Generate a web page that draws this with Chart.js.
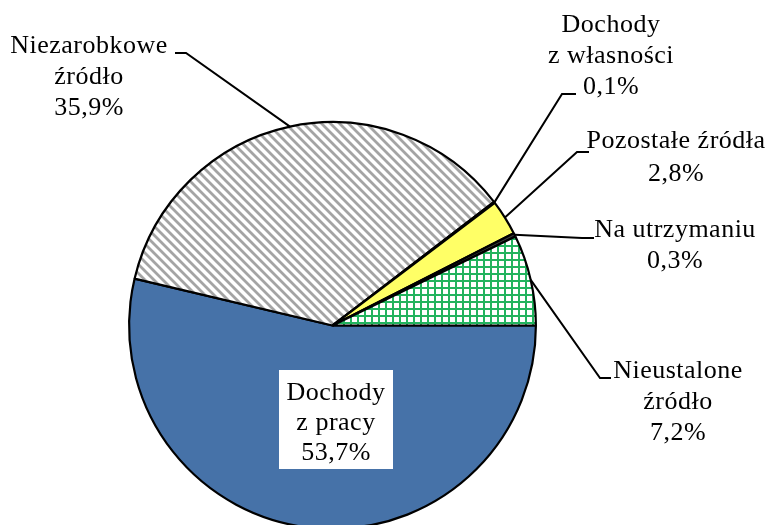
<!DOCTYPE html>
<html><head><meta charset="utf-8">
<script src="https://cdn.jsdelivr.net/npm/chart.js@4"></script>
<style>
html,body{margin:0;padding:0;background:#fff;overflow:hidden;}
#wrap{position:relative;width:765px;height:530px;}
</style></head>
<body>
<div id="wrap"><canvas id="c"></canvas></div>
<script>
const categories = [
  ['Dochody', 'z pracy'],
  ['Niezarobkowe', 'źródło'],
  ['Dochody', 'z własności'],
  ['Pozostałe źródła'],
  ['Na utrzymaniu'],
  ['Nieustalone', 'źródło']
];
const values = [53.7, 35.9, 0.1, 2.8, 0.3, 7.2];

// label layout: text centre x, first baseline y, line step, leader elbow & end
const labelLayout = [
  {x: 336, y: 400, step: 30, box: [279, 370, 114, 99]},
  {x: 89, y: 53, step: 31, elbow: [186, 53], end: [175, 53]},
  {x: 611, y: 32, step: 31, elbow: [562, 94], end: [576, 94]},
  {x: 676, y: 148, step: 33, elbow: [577, 152], end: [589, 152]},
  {x: 675, y: 237, step: 31, elbow: [582, 238], end: [594, 238]},
  {x: 678, y: 378, step: 31, elbow: [600, 378], end: [611, 378]}
];

function fmt(v){ return v.toFixed(1).replace('.', ',') + '%'; }

function hatchPattern(){
  const s = 9, c = document.createElement('canvas');
  c.width = s; c.height = s;
  const g = c.getContext('2d');
  g.fillStyle = '#fff'; g.fillRect(0,0,s,s);
  g.strokeStyle = '#a4a4a4'; g.lineWidth = 2.8;
  g.beginPath();
  for (let k = -2; k <= 2; k++) {
    g.moveTo(k*s - 3, -3); g.lineTo(k*s + s + 3, s + 3);
  }
  g.stroke();
  return g.createPattern(c, 'repeat');
}
function gridPattern(){
  const s = 7, c = document.createElement('canvas');
  c.width = s; c.height = s;
  const g = c.getContext('2d');
  g.fillStyle = '#fff'; g.fillRect(0,0,s,s);
  g.fillStyle = '#22b35e';
  g.fillRect(0,0,s,2);
  g.fillRect(0,0,2,s);
  return g.createPattern(c, 'repeat');
}

const colors = ['#4672a8', hatchPattern(), '#ffffff', '#ffff66', '#3a3a3a', gridPattern()];

const labelPlugin = {
  id: 'labels',
  afterDatasetsDraw(chart){
    const ctx = chart.ctx;
    const meta = chart.getDatasetMeta(0);
    ctx.save();
    ctx.font = '26px "Liberation Serif", "Times New Roman", serif';
    ctx.letterSpacing = '0.5px';
    ctx.textAlign = 'center';
    ctx.textBaseline = 'alphabetic';
    ctx.fillStyle = '#000';
    meta.data.forEach((arc, i) => {
      const L = labelLayout[i];
      const lines = categories[i].concat([fmt(values[i])]);
      if (L.box) {
        ctx.fillStyle = '#fff';
        ctx.fillRect(L.box[0], L.box[1], L.box[2], L.box[3]);
        ctx.fillStyle = '#000';
      } else {
        const p = arc.getProps(['x','y','startAngle','endAngle','outerRadius'], true);
        const mid = (p.startAngle + p.endAngle) / 2;
        const sx = p.x + Math.cos(mid) * p.outerRadius;
        const sy = p.y + Math.sin(mid) * p.outerRadius;
        ctx.strokeStyle = '#000';
        ctx.lineWidth = 2;
        ctx.beginPath();
        ctx.moveTo(sx, sy);
        ctx.lineTo(L.elbow[0], L.elbow[1]);
        ctx.lineTo(L.end[0], L.end[1]);
        ctx.stroke();
      }
      lines.forEach((t, k) => ctx.fillText(t, L.x, L.y + k * L.step));
    });
    ctx.restore();
  }
};

new Chart(document.getElementById('c'), {
  type: 'pie',
  data: {
    labels: categories.map(c => c.join(' ')),
    datasets: [{
      data: values,
      backgroundColor: colors,
      borderColor: '#000',
      borderWidth: 2.2,
      hoverOffset: 0
    }]
  },
  options: {
    responsive: true,
    maintainAspectRatio: false,
    animation: false,
    rotation: 90,
    layout: {padding: {top: 121, bottom: 0, left: 128, right: 228}},
    plugins: {legend: {display: false}, tooltip: {enabled: false}},
    events: []
  },
  plugins: [labelPlugin]
});
</script>
</body></html>
